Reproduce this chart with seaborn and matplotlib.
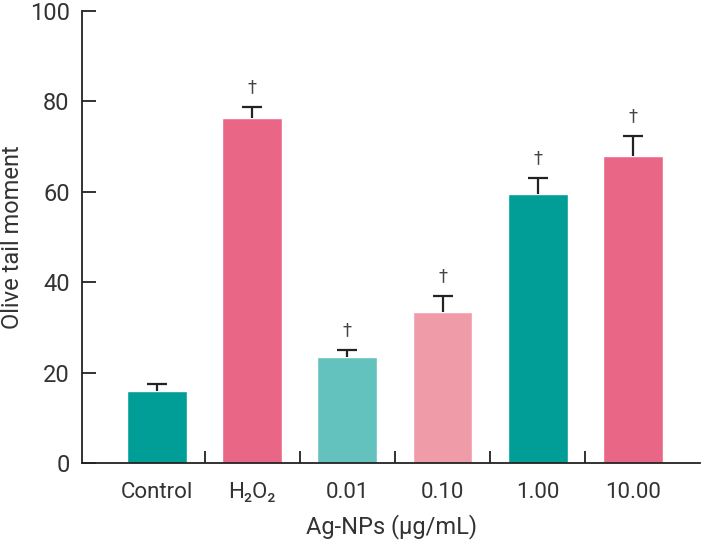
import numpy as np
import pandas as pd
import matplotlib
matplotlib.use("Agg")
import matplotlib.pyplot as plt
import seaborn as sns
from matplotlib.ticker import FixedLocator

# data
groups = ["Control", "H₂O₂", "0.01", "0.10", "1.00", "10.00"]
means = [15.9, 76.3, 23.4, 33.4, 59.6, 68.0]
errors = [1.5, 2.5, 1.5, 3.5, 3.4, 4.3]
marks = ["", "†", "†", "†", "†", "†"]
colors = ["#009E96", "#E96686", "#63C2BD", "#F09BA8", "#009E96", "#E96686"]

sns.set_style("ticks")
plt.rcParams["font.family"] = ["Roboto", "DejaVu Sans"]
text_col = "#333333"

df = pd.DataFrame({"group": groups, "mean": means})

fig = plt.figure(figsize=(7.08, 5.44), dpi=100)
ax = fig.add_axes([0.116, 0.149, 0.873, 0.831])

sns.barplot(data=df, x="group", y="mean", hue="group", palette=colors,
            width=0.63, legend=False, saturation=1, ax=ax)

# upper error bars only, cap on top
x = np.arange(len(groups))
tops = np.array(means) + np.array(errors)
ax.errorbar(x, means, yerr=[np.zeros(len(errors)), errors], fmt="none",
            ecolor="#222222", elinewidth=1.6, capsize=0)
ax.plot(x, tops, ls="none", marker="_", ms=14, mew=1.6, color="#222222")

for xi, t, s in zip(x, tops, marks):
    if s:
        ax.text(xi, t + 2.4, s, ha="center", va="bottom",
                fontsize=13, color="#444444", family=["DejaVu Sans"])

ax.set_xlim(-0.79, 5.71)
ax.set_ylim(0, 100)
ax.set_yticks([0, 20, 40, 60, 80, 100])

# ticks between the categories, pointing up
ax.tick_params(axis="x", which="major", length=0, pad=14,
               labelsize=16, labelcolor=text_col)
ax.xaxis.set_minor_locator(FixedLocator(np.arange(0.5, 5, 1)))
ax.tick_params(axis="x", which="minor", direction="in", length=9,
               width=1.3, color="#222222")
ax.tick_params(axis="y", direction="in", length=10, width=1.3,
               color="#222222", labelsize=17, labelcolor=text_col, pad=9)

for side in ["top", "right"]:
    ax.spines[side].set_visible(False)
for side in ["left", "bottom"]:
    ax.spines[side].set_linewidth(1.3)
    ax.spines[side].set_color("#222222")

ax.set_xlabel("Ag-NPs (μg/mL)", fontsize=17, color=text_col, labelpad=8)
ax.set_ylabel("Olive tail moment", fontsize=17, color=text_col, va="center")
ax.yaxis.set_label_coords(-0.113, 0.5)

fig.savefig("out.png", dpi=100)
